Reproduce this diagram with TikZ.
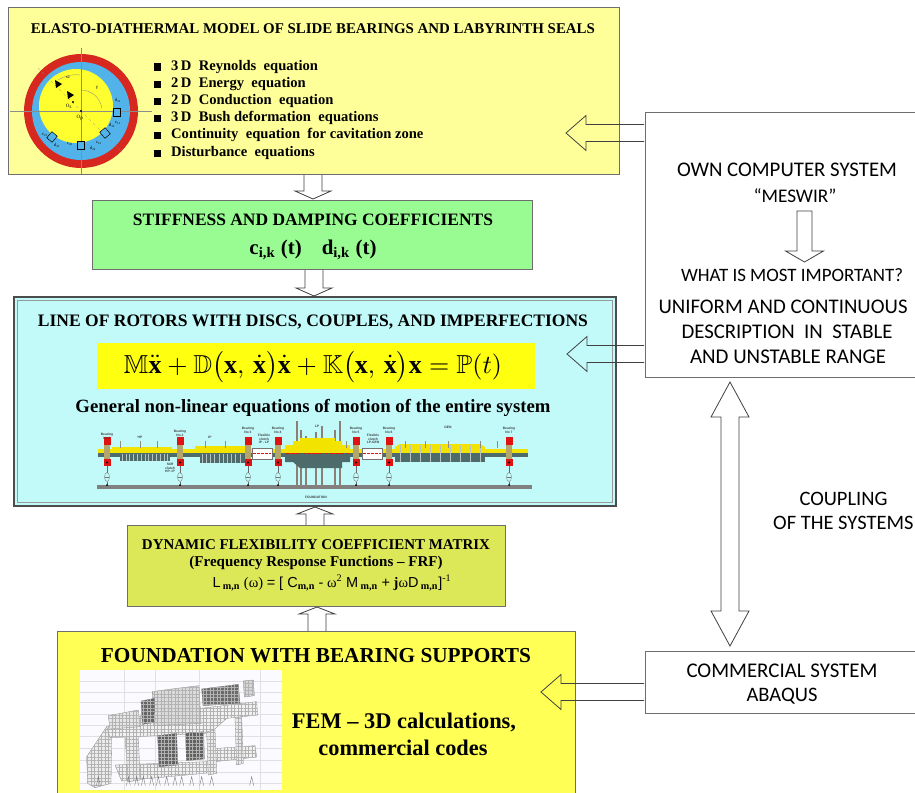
\documentclass[tikz,border=0pt]{standalone}
\usepackage{fontspec}
\setmainfont{Liberation Serif}
\newfontfamily\cali{Carlito}
\newfontfamily\ars{Liberation Sans}
\usepackage{amssymb}
\usepackage{graphicx}
\usetikzlibrary{patterns.meta}
\definecolor{topY}{HTML}{FFFF99}
\definecolor{grn}{HTML}{99FC93}
\definecolor{cyn}{HTML}{C2FAFA}
\definecolor{eqY}{HTML}{FFFF10}
\definecolor{frfY}{HTML}{DCE858}
\definecolor{fndY}{HTML}{FFFF55}
\definecolor{bord}{HTML}{6E6E6E}
\definecolor{ringR}{HTML}{D6281E}
\definecolor{ringB}{HTML}{52B2EA}
\definecolor{inY}{HTML}{FFFF30}
\definecolor{shY}{HTML}{F2E400}
\definecolor{slate}{HTML}{4D6B6B}
\definecolor{brg}{HTML}{B3A56C}
\definecolor{brR}{HTML}{E01212}
\definecolor{disc}{HTML}{8C7F76}
\newcommand{\fw}[2]{\resizebox{#1pt}{!}{#2}}
\newcommand{\arrDown}[3]{\draw[barr] (#1-9,#2) -- (#1-9,#3-8) -- (#1-18,#3-8) -- (#1,#3) -- (#1+18,#3-8) -- (#1+9,#3-8) -- (#1+9,#2);}
\newcommand{\arrUp}[3]{\draw[barr] (#1-9,#2) -- (#1-9,#3+7) -- (#1-18,#3+7) -- (#1,#3) -- (#1+18,#3+7) -- (#1+9,#3+7) -- (#1+9,#2);}
\newcommand{\arrLeft}[3]{\draw[barr] (#2,#1-8.5) -- (#3+20,#1-8.5) -- (#3+20,#1-17.5) -- (#3,#1) -- (#3+20,#1+17.5) -- (#3+20,#1+8.5) -- (#2,#1+8.5);}
\newcommand{\bearing}[1]{%
  \fill[brg] (#1-3,440) rectangle (#1+3,466);
  \fill[brR] (#1-3.5,437) rectangle (#1+3.5,445);
  \fill[brR] (#1-3.5,459) rectangle (#1+3.5,466);
  \fill[black] (#1,462.5) circle[radius=1.2];
  \draw[black!60,line width=0.3] (#1,466) -- (#1,472.5) (#1,481.5) -- (#1,485);
  \draw[black!55,line width=0.35] (#1,477) ellipse[x radius=2.5,y radius=4.5];
  \draw[black!55,line width=0.3] (#1-2,477) -- (#1+2,477);
  \fill[black] (#1,485) circle[radius=1];}
\tikzset{
  box/.style={draw=bord,line width=0.9,inner sep=0pt},
  barr/.style={draw=black!75,line width=0.8},
  tx/.style={inner sep=0pt,anchor=center},
  tiny/.style={inner sep=0pt,align=center,font=\ars\bfseries\fontsize{3.3}{3.7}\selectfont,text=black!75},
  fem/.style={fill=#1,draw=black!50,line width=0.3,
    postaction={pattern={Lines[angle=0,distance=3.5pt,line width=0.2pt]},pattern color=black!30},
    postaction={pattern={Lines[angle=90,distance=3.5pt,line width=0.2pt]},pattern color=black!30}},
  sd/.style={draw=black,line width=0.5,fill=ringB}
}
\begin{document}
\begin{tikzpicture}[x=1pt,y=-1pt]
\fill[white] (0,0) rectangle (915,792);
\useasboundingbox (0,0) rectangle (915,792);

% ---------- boxes ----------
\node[box,fill=topY,minimum width=611,minimum height=167] (model) at (313.5,90.5) {};
\node[box,fill=grn,minimum width=440,minimum height=69] (coef) at (312,234.5) {};
\node[draw=black!70,line width=1.3,fill=cyn,minimum width=602,minimum height=209,inner sep=0pt] (rotor) at (315,401.5) {};
\node[draw=black!40,line width=0.7,minimum width=595,minimum height=202,inner sep=0pt] (rotorin) at (315,401.5) {};
\node[fill=eqY,minimum width=438,minimum height=46,inner sep=0pt] (eqband) at (316,366) {};
\node[box,fill=frfY,minimum width=378,minimum height=81] (frf) at (316,565.5) {};
\node[box,fill=fndY,minimum width=518,minimum height=184] (fnd) at (316,723) {};
\node[box,fill=white,minimum width=280,minimum height=265] (own) at (785,244.5) {};
\node[box,fill=white,minimum width=280,minimum height=62] (com) at (785,682) {};

% ---------- top box ----------
\node[tx] (t1) at (313,29) {\fw{564}{\bfseries ELASTO-DIATHERMAL MODEL OF SLIDE BEARINGS AND LABYRINTH SEALS}};
\foreach \yy/\tt in {67/{3\,D\ \ Reynolds\ \ equation},84/{2\,D\ \ Energy\ \ equation},101/{2\,D\ \ Conduction\ \ equation},118/{3\,D\ \ Bush deformation\ \ equations},135/{Continuity\ \ equation\ \ for cavitation zone},153/{Disturbance\ \ equations}}{
  \fill[black] (154,\yy-3.5) rectangle (161,\yy+3.5);
  \node[inner sep=0pt,anchor=west,font=\bfseries\fontsize{14.6}{16}\selectfont] at (171,\yy) {\tt};
}
% bearing cross-section
\fill[ringR] (81,111) circle[radius=57];
\fill[ringB] (81,111) circle[radius=49];
\fill[inY] (76,106) circle[radius=37];
\draw[black!45,line width=0.35] (10,111) -- (152,111) (81,48) -- (81,174);
\draw[black!45,line width=0.35,dashed] (38,68) -- (123,153);
\draw[black!50,line width=0.3] (81,90) arc[start angle=-90,end angle=-8,radius=21];
\draw[black!50,line width=0.3] (58,80) .. controls (64,76) and (72,74) .. (80,75);
\fill[black] (55,80) -- (62,84) -- (56,88) -- cycle;
\fill[black] (67,91) -- (74,95) -- (68,99) -- cycle;
\fill[black] (73,102) circle[radius=1.1];
\fill[black] (81,111) circle[radius=1.1];
\node[inner sep=0pt,font=\fontsize{5}{5}\selectfont] at (68,77) {ω};
\node[inner sep=0pt,font=\fontsize{5}{5}\selectfont] at (97,88) {γ};
\node[inner sep=0pt,font=\fontsize{5}{5}\selectfont] at (69,106) {O\textsubscript{s}};
\node[inner sep=0pt,font=\fontsize{5}{5}\selectfont] at (80,118) {O\textsubscript{p}};
\node[sd,minimum width=7,minimum height=8,inner sep=0pt] (sd1) at (117,112) {};
\node[sd,minimum width=7,minimum height=8,inner sep=0pt,rotate=40] (sd2) at (105,133) {};
\node[sd,minimum width=7,minimum height=8,inner sep=0pt] (sd3) at (81,145) {};
\node[sd,minimum width=7,minimum height=8,inner sep=0pt,rotate=-40] (sd4) at (52,137) {};
\node[inner sep=0pt,font=\fontsize{4.5}{5}\selectfont] at (118,100) {d\textsubscript{11}};
\node[inner sep=0pt,font=\fontsize{4.5}{5}\selectfont] at (118,123) {c\textsubscript{11}};
\node[inner sep=0pt,font=\fontsize{4.5}{5}\selectfont] at (112,125) {d\textsubscript{12}};
\node[inner sep=0pt,font=\fontsize{4.5}{5}\selectfont] at (99,143) {c\textsubscript{12}};
\node[inner sep=0pt,font=\fontsize{4.5}{5}\selectfont] at (70,144) {c\textsubscript{22}};
\node[inner sep=0pt,font=\fontsize{4.5}{5}\selectfont] at (93,148) {d\textsubscript{22}};
\node[inner sep=0pt,font=\fontsize{4.5}{5}\selectfont] at (45,135) {c\textsubscript{21}};
\node[inner sep=0pt,font=\fontsize{4.5}{5}\selectfont] at (57,145) {d\textsubscript{21}};

% ---------- green box ----------
\node[tx] at (313,220) {\fw{360}{\bfseries STIFFNESS AND DAMPING COEFFICIENTS}};
\node[tx] at (313,250) {\fw{127}{\bfseries c\textsubscript{i,k} (t)\hspace{0.95em}d\textsubscript{i,k} (t)}};

% ---------- rotor box ----------
\node[tx] at (313,322) {\fw{550}{\bfseries LINE OF ROTORS WITH DISCS, COUPLES, AND IMPERFECTIONS}};
\node[tx] at (313,367) {\fw{378}{$\mathbb{M}\ddot{\mathbf{x}}+\mathbb{D}\bigl(\mathbf{x},\,\dot{\mathbf{x}}\bigr)\dot{\mathbf{x}}+\mathbb{K}\bigl(\mathbf{x},\,\dot{\mathbf{x}}\bigr)\mathbf{x}=\mathbb{P}(t)$}};
\node[tx] at (313,408) {\fw{475}{\bfseries General non-linear equations of motion of the entire system}};

% rotor line drawing
\fill[black!50] (97,485) rectangle (532,489);
\node[tiny] at (316,497) {FOUNDATION};
\foreach \xx/\tp in {297/421,301/430,306/436,316/432,322/426,335/430,340/421}{
  \fill[disc] (\xx-1.2,\tp) rectangle (\xx+1.2,487);}
\fill[shY] (98,449) rectangle (528,453);
\fill[slate] (98,453) rectangle (528,457);
\fill[shY] (112,447) rectangle (172,453);
\fill[slate] (120,453) rectangle (170,461);
\foreach \i in {0,...,12}{\draw[white!60!slate,line width=0.3] (122+\i*3.8,454) -- ++(0,7);}
\fill[shY] (195,446) rectangle (245,453);
\fill[slate] (200,453) rectangle (245,463);
\foreach \i in {0,...,9}{\draw[white!60!slate,line width=0.3] (202+\i*4.2,454) -- ++(0,9);}
\fill[shY] (285,449) -- (285,445) -- (293,445) -- (293,441) -- (300,441) -- (300,438) -- (335,438) -- (335,441) -- (342,441) -- (342,445) -- (350,445) -- (350,449) -- cycle;
\fill[shY] (285,449) rectangle (350,453);
\fill[slate] (285,453) -- (350,453) -- (350,462) -- (342,462) -- (342,468) -- (300,468) -- (293,462) -- (285,462) -- cycle;
\fill[shY] (395,447) -- (400,444) -- (480,444) -- (485,447) -- (485,453) -- (395,453) -- cycle;
\fill[slate] (395,453) rectangle (485,462);
\foreach \i in {0,...,8}{\draw[white!60!slate,line width=0.3] (400+\i*10,445) -- ++(0,17);}
\draw[brR,line width=0.3,dash pattern=on 3pt off 1pt on 0.5pt off 1pt] (286,453) -- (349,453);
\foreach \xx in {252,362}{
  \filldraw[fill=white,draw=black!55,line width=0.4] (\xx,448) rectangle (\xx+20,459);
  \draw[brR,line width=0.3,dash pattern=on 3pt off 1pt] (\xx+1,453.5) -- (\xx+19,453.5);}
\foreach \xx in {120,140,157,205,225,346,405,425,448,480,497}{
  \draw[black!45,line width=0.3] (\xx,441) -- (\xx,448);}
\foreach \xx in {107,180,248,278,356,389,509}{\bearing{\xx}}
\node[tiny] at (107,436) {Bearing\\No 1};
\node[tiny] at (180,433) {Bearing\\No 2};
\node[tiny] at (248,430) {Bearing\\No 3};
\node[tiny] at (278,430) {Bearing\\No 4};
\node[tiny] at (356,430) {Bearing\\No 5};
\node[tiny] at (389,430) {Bearing\\No 6};
\node[tiny] at (509,430) {Bearing\\No 7};
\node[tiny] at (140,437) {HP};
\node[tiny] at (210,437) {IP};
\node[tiny] at (317,426) {LP};
\node[tiny] at (448,427) {GEN};
\node[tiny] at (170,468) {Stiff\\clutch\\HP- IP};
\node[tiny] at (264,439) {Flexible\\clutch\\IP - LP};
\node[tiny] at (373,439) {Flexible\\clutch\\LP-GEN};

% ---------- FRF box ----------
\node[tx] at (316,545) {\fw{348}{\bfseries DYNAMIC FLEXIBILITY COEFFICIENT MATRIX}};
\node[tx] at (316,563) {\fw{253}{\bfseries (Frequency Response Functions – FRF)}};
\node[tx] at (332,583) {\fw{239}{{\ars L}\,{\bfseries\textsubscript{m,n}} (ω) {\ars = [ C}{\bfseries\textsubscript{m,n}} {\ars -} ω\textsuperscript{2} {\ars M}\,{\bfseries\textsubscript{m,n}} {\ars +} {\bfseries j}ω{\ars D}\,{\bfseries\textsubscript{m,n}}{\ars ]}\textsuperscript{-1}}};

% ---------- foundation box ----------
\node[tx] at (316,656) {\fw{430}{\bfseries FOUNDATION WITH BEARING SUPPORTS}};
\node[tx] at (404,722) {\fw{224}{\bfseries FEM – 3D calculations,}};
\node[tx] at (403,748) {\fw{169}{\bfseries commercial codes}};
\begin{scope}[shift={(75,665)},xscale=1/3,yscale=1/3]
  \fill[white!94!blue!30!white] (15,15) rectangle (621,375);
  \foreach \yy in {48,80,112,146,180,214,250,285,320,355}{\draw[black!12,line width=0.3] (15,\yy) -- (621,\yy);}
  \foreach \xx in {148,240,372,555}{\draw[black!12,line width=0.3] (\xx,15) -- (\xx,375);}
  \path[fem=black!6] (120,300) -- (400,290) -- (420,322) -- (140,348) -- cycle;
  \path[fem=black!6] (400,252) -- (540,242) -- (545,276) -- (420,290) -- cycle;
  \path[fem=black!8] (35,275) -- (95,185) -- (110,195) -- (108,355) -- (60,368) -- (38,355) -- cycle;
  \path[fem=black!8] (150,215) -- (190,210) -- (195,345) -- (160,350) -- cycle;
  \path[fem=black!6] (95,185) -- (205,150) -- (420,125) -- (545,110) -- (548,150) -- (455,160) -- (405,205) -- (245,212) -- (105,218) -- cycle;
  \path[fem=black!8] (395,200) -- (420,195) -- (425,325) -- (400,330) -- cycle;
  \path[fem=black!8] (480,160) -- (500,155) -- (505,295) -- (485,300) -- cycle;
  \path[fem=black!62] (248,212) -- (305,205) -- (308,300) -- (252,305) -- cycle;
  \path[fem=black!62] (332,205) -- (386,200) -- (388,282) -- (334,287) -- cycle;
  \path[fem=black!14] (232,80) -- (290,72) -- (372,62) -- (378,175) -- (235,182) -- cycle;
  \path[fem=black!60] (198,108) -- (238,100) -- (240,172) -- (202,178) -- cycle;
  \path[fem=black!58] (380,72) -- (490,58) -- (495,115) -- (384,122) -- cycle;
  \path[fem=black!10] (100,152) -- (190,135) -- (195,185) -- (105,192) -- cycle;
  \path[fem=black!16] (505,48) -- (535,45) -- (538,92) -- (508,96) -- cycle;
  \foreach \xx in {70,160,185,205,230,250,275,300,320,350,380,410,530}{
    \draw[black!60,line width=0.3] (\xx-6,362) -- (\xx,335) -- (\xx+6,362);}
\end{scope}

% ---------- right boxes ----------
\node[tx] at (787,170) {\fw{220}{\cali OWN COMPUTER SYSTEM}};
\node[tx] at (795,196) {\fw{83}{\cali “MESWIR”}};
\node[tx] at (792,275) {\fw{222}{\cali WHAT IS MOST IMPORTANT?}};
\node[tx] at (783,307) {\fw{249}{\cali UNIFORM AND CONTINUOUS}};
\node[tx] at (787,332) {\fw{211}{\cali DESCRIPTION\ \ IN\ \ STABLE}};
\node[tx] at (788,357) {\fw{196}{\cali AND UNSTABLE RANGE}};
\node[inner sep=0pt,anchor=center,font=\cali\fontsize{20.5}{22}\selectfont] at (843.5,499) {COUPLING};
\node[inner sep=0pt,anchor=west,font=\cali\fontsize{20.5}{22}\selectfont] at (773,523) {OF THE SYSTEMS};
\node[tx] at (782,671) {\fw{191}{\cali COMMERCIAL SYSTEM}};
\node[tx] at (782,696) {\fw{71}{\cali ABAQUS}};

% ---------- block arrows ----------
\arrDown{313}{175}{199}
\arrDown{314}{270}{296}
\arrUp{315}{525}{507}
\arrUp{317}{631}{607}
\arrLeft{133}{644}{566}
\arrLeft{354}{644}{567}
\arrLeft{692}{644}{541}
\draw[barr] (804.5,211) -- (812,211) -- (812,251) -- (823.5,251) -- (804.5,262) -- (785.5,251) -- (797,251) -- (797,211) -- cycle;
\draw[barr] (730,382) -- (749,417) -- (739,417) -- (739,611) -- (749,611) -- (730,646) -- (711,611) -- (721,611) -- (721,417) -- (711,417) -- cycle;
\end{tikzpicture}
\end{document}
